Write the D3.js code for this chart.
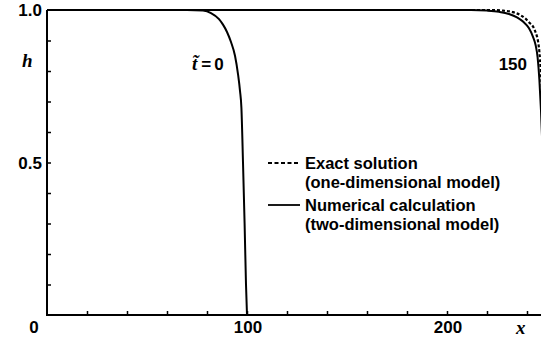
<!DOCTYPE html>
<html>
<head>
<meta charset="utf-8">
<script src="https://cdn.jsdelivr.net/npm/d3@7"></script>
<style>
  html, body { margin: 0; padding: 0; background: #fff; }
  svg { display: block; }
  .num { font-family: "Liberation Sans", Arial, sans-serif; font-weight: bold; font-size: 17px; fill: #000; }
  .leg { font-family: "Liberation Sans", Arial, sans-serif; font-weight: bold; font-size: 16.5px; fill: #000; }
  .var { font-family: "Liberation Serif", "Times New Roman", serif; font-style: italic; font-weight: bold; font-size: 19px; fill: #000; }
</style>
</head>
<body>
<svg id="chart" width="541" height="346"></svg>
<script>
// t~ = 0, numerical (two-dimensional)
const t0X = [0, 70, 78, 82, 86, 88, 90, 92, 94, 95.5, 96.5, 97.2, 98, 98.8, 99.5, 100];
const t0H = [1, 1, 0.998, 0.99, 0.97, 0.952, 0.928, 0.895, 0.85, 0.79, 0.735, 0.68, 0.5, 0.3, 0.1, 0];

// t~ = 150, numerical (two-dimensional)
const t150X = [0, 212, 220, 226, 231, 235, 238, 241, 243, 244.3, 245.3, 246.2, 247, 248, 249, 250];
const t150H = [1, 1, 0.998, 0.994, 0.987, 0.976, 0.962, 0.94, 0.912, 0.885, 0.845, 0.77, 0.67, 0.5, 0.25, 0];

// t~ = 150, exact solution (one-dimensional)
const exactX = [0, 222, 228, 233, 237, 241, 244, 246, 247, 248, 249, 249.6, 250];
const exactH = [1, 1, 0.998, 0.993, 0.982, 0.96, 0.932, 0.875, 0.79, 0.67, 0.45, 0.2, 0];

const xTicks = [20, 40, 60, 80, 100, 120, 140, 160, 180, 200, 220, 240];
const xTickLabels = [100, 200];
const yTicks = [0.1, 0.2, 0.3, 0.4, 0.5, 0.6, 0.7, 0.8, 0.9];
const yTickLabels = [0.5, 1.0];
const legendItems = [
  {lines: ["Exact solution", "(one-dimensional model)"], dash: "4,2.5"},
  {lines: ["Numerical calculation", "(two-dimensional model)"], dash: null}
];

const svg = d3.select("#chart");
const x = d3.scaleLinear().domain([0, 250]).range([47, 547]);
const y = d3.scaleLinear().domain([0, 1]).range([315, 10]);

// axes
svg.append("g")
    .attr("transform", `translate(0,${y(0)})`)
    .call(d3.axisBottom(x).tickValues(xTicks).tickSize(-4).tickFormat(""))
    .call(g => g.select(".domain").attr("stroke-width", 2).attr("d", `M${x(0)},0H541`))
    .call(g => g.selectAll(".tick line").attr("stroke-width", 1.5));

svg.append("g")
    .attr("transform", `translate(${x(0)},0)`)
    .call(d3.axisLeft(y).tickValues(yTicks).tickSize(-4).tickFormat(""))
    .call(g => g.select(".domain").attr("stroke-width", 2).attr("d", `M0,${y(0) + 1}V${y(1)}`))
    .call(g => g.selectAll(".tick line").attr("stroke-width", 1.5));

// tick labels
svg.selectAll(".xlab").data(xTickLabels).enter().append("text")
    .attr("class", "num")
    .attr("x", d => x(d) + 1)
    .attr("y", 333)
    .attr("text-anchor", "middle")
    .text(d => d);

svg.append("text").attr("class", "num")
    .attr("x", 34).attr("y", 333).attr("text-anchor", "middle").text("0");

svg.selectAll(".ylab").data(yTickLabels).enter().append("text")
    .attr("class", "num")
    .attr("x", 42)
    .attr("y", d => y(d) + 6)
    .attr("text-anchor", "end")
    .text(d => d.toFixed(1));

svg.append("text").attr("class", "var")
    .attr("x", 22).attr("y", 67).text("h");
svg.append("text").attr("class", "var")
    .attr("x", 516).attr("y", 334).text("x");

// curves
const line = d3.line()
    .x(d => x(d[0]))
    .y(d => y(d[1]))
    .curve(d3.curveMonotoneX);

const zip = (a, b) => a.map((v, i) => [v, b[i]]);

svg.append("path")
    .datum(zip(t0X, t0H))
    .attr("d", line)
    .attr("fill", "none").attr("stroke", "#000").attr("stroke-width", 2);

svg.append("path")
    .datum(zip(t150X, t150H))
    .attr("d", line)
    .attr("fill", "none").attr("stroke", "#000").attr("stroke-width", 2);

svg.append("path")
    .datum(zip(exactX, exactH))
    .attr("d", line)
    .attr("fill", "none").attr("stroke", "#000").attr("stroke-width", 2.2)
    .attr("stroke-dasharray", "3,2");

// curve labels
const t0Label = svg.append("text").attr("x", 192).attr("y", 70);
t0Label.append("tspan").attr("class", "var").text("t\u0303");
t0Label.append("tspan").attr("class", "num").attr("dx", 4).text("=");
t0Label.append("tspan").attr("class", "num").attr("dx", 3).text("0");

svg.append("text").attr("class", "num")
    .attr("x", 527).attr("y", 70).attr("text-anchor", "end").text("150");

// legend
const leg = svg.append("g").attr("transform", "translate(268,163)");
legendItems.forEach((item, i) => {
  const gy = i * 42;
  leg.append("line")
      .attr("x1", 0).attr("x2", 32).attr("y1", gy).attr("y2", gy)
      .attr("stroke", "#000").attr("stroke-width", 1.8)
      .attr("stroke-dasharray", item.dash);
  item.lines.forEach((t, j) => {
    leg.append("text").attr("class", "leg")
        .attr("x", 37).attr("y", gy + 6 + j * 19)
        .text(t);
  });
});
</script>
</body>
</html>
